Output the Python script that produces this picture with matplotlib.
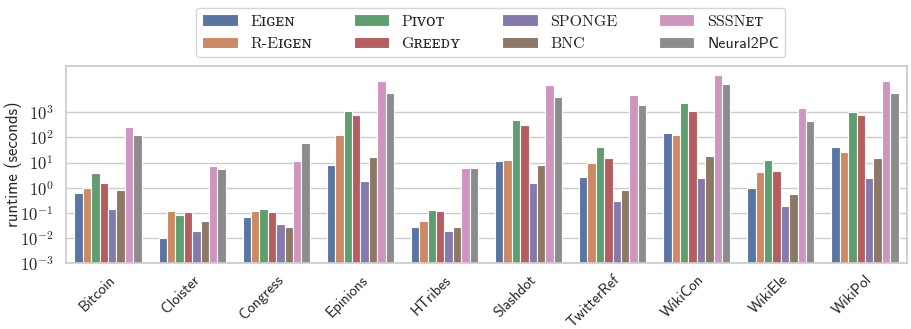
import os
os.environ['MPLBACKEND'] = 'Agg'

import matplotlib.pyplot as plt
import numpy as np
import seaborn as sns

datasets = ['Bitcoin', 'Cloister', 'Congress', 'Epinions', 'HTribes',
            'Slashdot', 'TwitterRef', 'WikiCon', 'WikiEle', 'WikiPol']
methods = ['Eigen', 'R-Eigen', 'Pivot', 'Greedy', 'SPONGE', 'BNC', 'SSSNet', 'Neural2PC']

# legend labels (small caps faked with unicode small capitals)
method_labels = ['E\u026a\u0262\u1d07\u0274', 'R-E\u026a\u0262\u1d07\u0274', 'P\u026a\u1d20\u1d0f\u1d1b',
                 'G\u0280\u1d07\u1d07\u1d05\u028f', 'SPONGE', 'BNC', 'SSSN\u1d07\u1d1b', 'Neural2PC']

eigen = [0.59, 0.0095, 0.065, 8.1, 0.027, 11.7, 2.7, 148, 0.95, 42]
r_eigen = [1.0, 0.12, 0.12, 126, 0.046, 12.5, 10, 123, 4.1, 26]
pivot = [4.0, 0.085, 0.14, 1120, 0.127, 475, 40, 2330, 13, 1050]
greedy = [1.5, 0.11, 0.11, 755, 0.12, 310, 15, 1090, 4.5, 775]
sponge = [0.14, 0.019, 0.037, 1.77, 0.019, 1.5, 0.29, 2.4, 0.19, 2.4]
bnc = [0.82, 0.047, 0.027, 17, 0.027, 8.1, 0.8, 17.5, 0.55, 15]
sssnet = [250, 7.0, 11.4, 17400, 6.0, 12000, 5000, 30000, 1500, 17400]
neural2pc = [123, 5.3, 59, 5800, 6.0, 4000, 1950, 13300, 435, 5700]

runtimes = [eigen, r_eigen, pivot, greedy, sponge, bnc, sssnet, neural2pc]

sns.set_theme(style='whitegrid')
plt.rcParams['font.family'] = ['cmss10', 'DejaVu Sans']
plt.rcParams['mathtext.fontset'] = 'cm'
plt.rcParams['axes.formatter.use_mathtext'] = True

colors = sns.color_palette('deep', desat=0.75)

fig = plt.figure(figsize=(9.12, 3.29), dpi=100)
ax = fig.add_axes([66 / 912, 1 - 263 / 329, 841 / 912, 197 / 329])
ax.set_yscale('log')

ymin = 1e-3
x = np.arange(len(datasets))
width = 0.1
for i, (label, vals) in enumerate(zip(method_labels, runtimes)):
    offs = (i - 3.5) * width
    vals = np.array(vals)
    ax.bar(x + offs, vals - ymin, width, bottom=ymin, color=colors[i],
           edgecolor='white', linewidth=0.8, label=label)

ax.set_xlim(-0.5, len(datasets) - 0.5)
ax.set_ylim(ymin, 7e4)
ax.set_yticks([1e-3, 1e-2, 1e-1, 1, 1e1, 1e2, 1e3])
ax.set_yticklabels([r'$10^{%d}$' % k for k in range(-3, 4)])
ax.minorticks_off()
ax.set_xticks(x)
ax.set_xticklabels(datasets, rotation=45, ha='right', rotation_mode='anchor')
ax.tick_params(axis='y', labelsize=12, pad=3)
ax.tick_params(axis='x', labelsize=10.8, pad=1)
ax.set_ylabel('runtime (seconds)', fontsize=12)
ax.yaxis.set_label_coords(-0.052, 0.5)
ax.grid(axis='x', visible=False)

leg = ax.legend(loc='upper center', bbox_to_anchor=(0.505, 1.335),
                ncol=4, fontsize=11.5, columnspacing=2.6, handlelength=2.2, frameon=True)
for t in leg.get_texts()[:7]:
    t.set_fontfamily(['cmr10', 'DejaVu Serif'])

fig.savefig('out.png', dpi=100)
